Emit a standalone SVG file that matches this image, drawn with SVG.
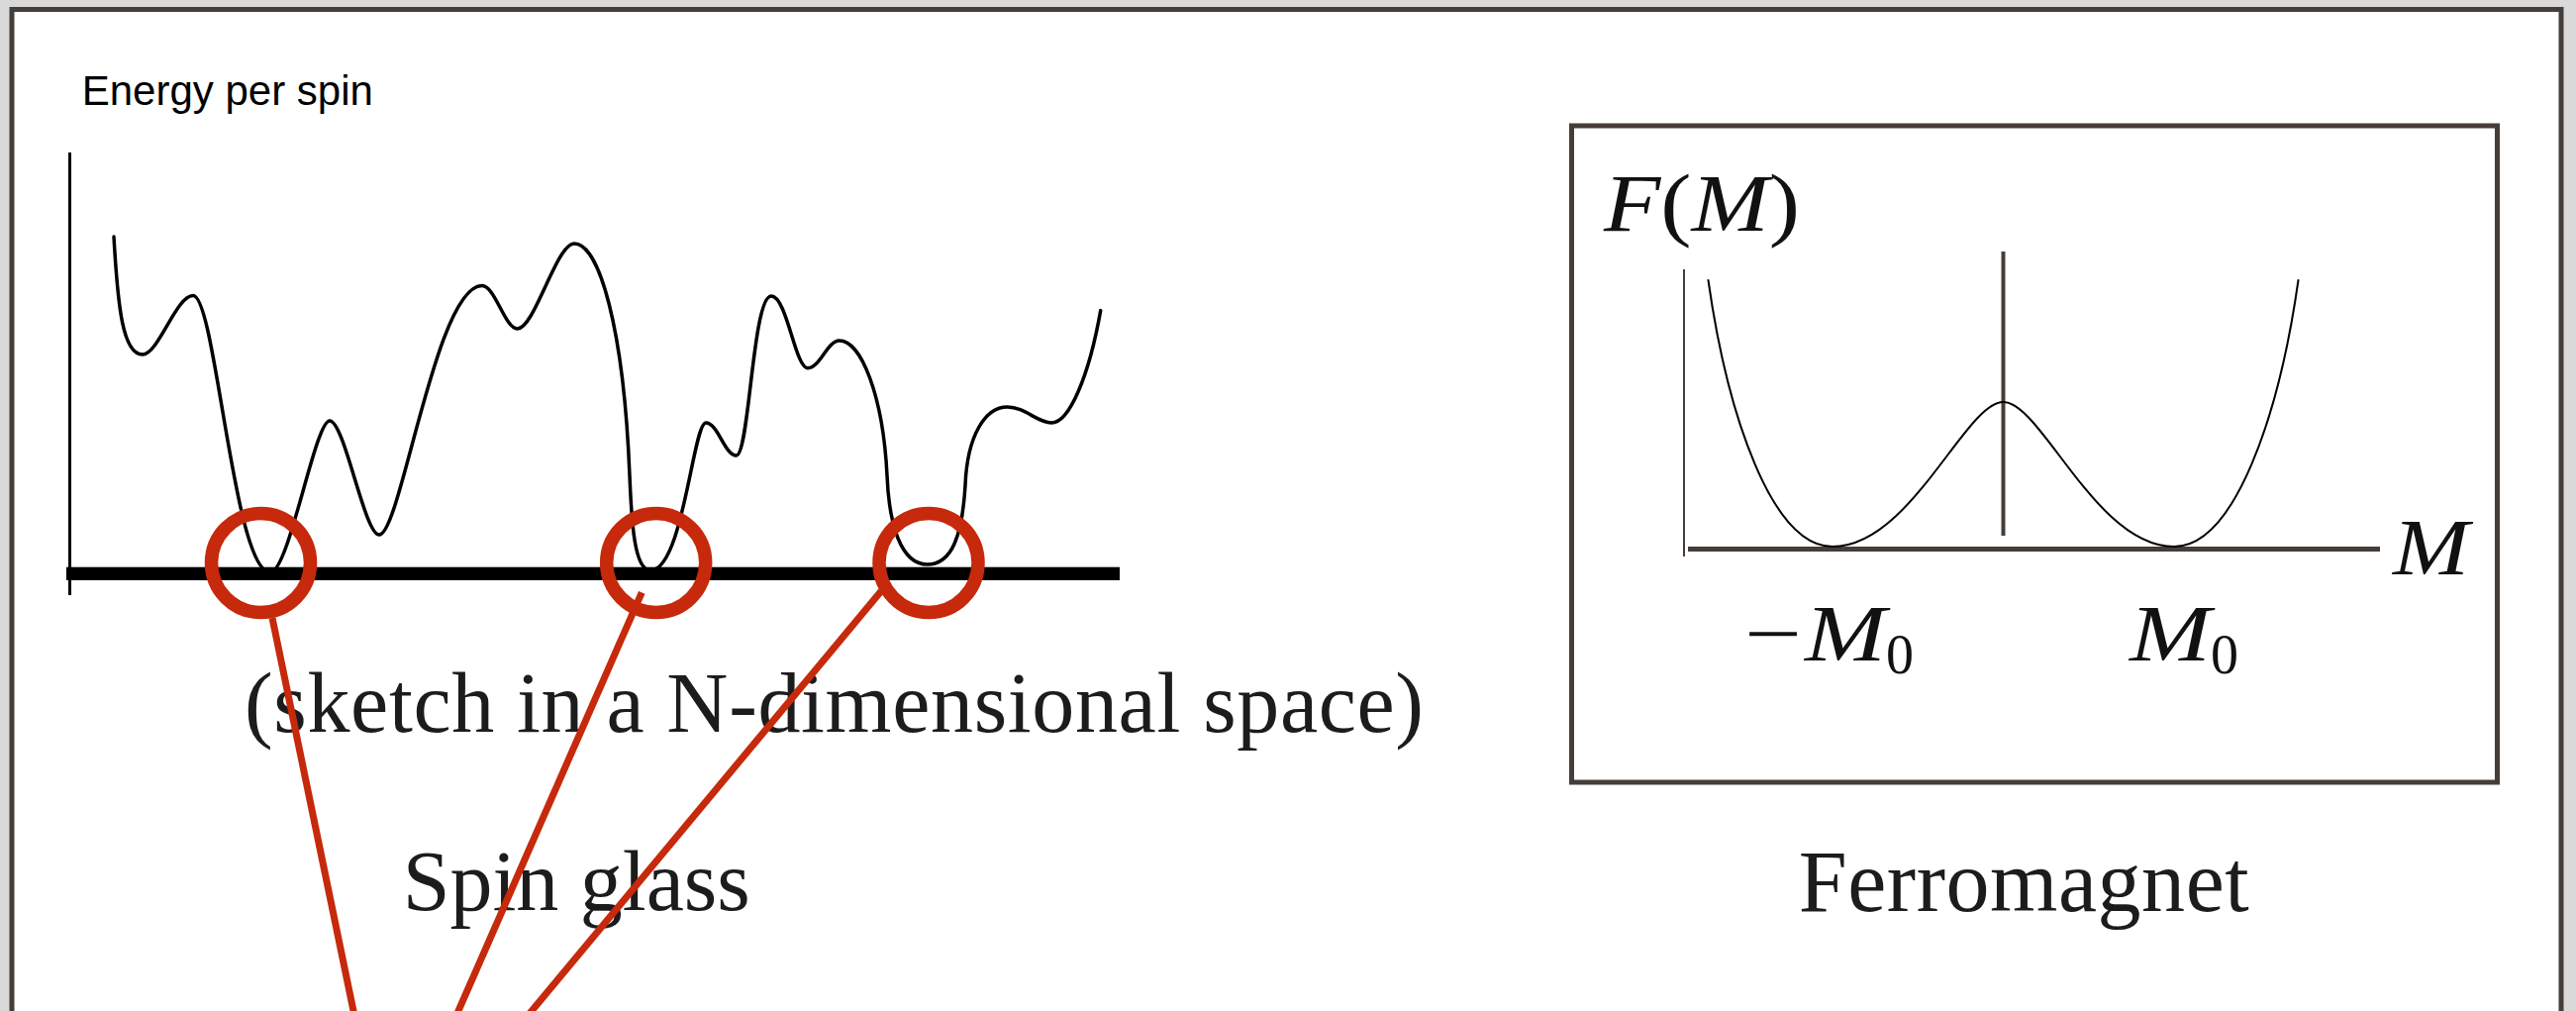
<svg xmlns="http://www.w3.org/2000/svg" width="2602" height="1021" viewBox="0 0 2602 1021">
  <style>
    .serif { font-family: "Liberation Serif", "DejaVu Serif", serif; fill: #1c1c1c; }
    .math { font-family: "Liberation Serif", "DejaVu Serif", serif; fill: #111; }
    .it { font-style: italic; }
    .sans { font-family: "Liberation Sans", Arial, sans-serif; fill: #000; }
    .red { stroke: #c6290b; fill: none; }
    .curve { fill: none; stroke: #000; stroke-linecap: round; stroke-linejoin: round; }
    .frame { fill: #fff; stroke: #453d38; stroke-width: 5; }
  </style>
  <rect x="0" y="0" width="2602" height="1021" fill="#d9d9d9"/>
  <rect class="frame" x="12" y="9.5" width="2575" height="1040"/>

  <g id="spin-glass-plot">
    <text class="sans" x="82.7" y="106" font-size="42">Energy per spin</text>
    <line x1="70.5" y1="154" x2="70.5" y2="601" stroke="#000" stroke-width="3"/>
    <path class="curve" stroke-width="3.5" d="M115,239 C119,310 124,358 144,358 C160,358 178,298.5 195,298.5 C218,298.5 236,578 273,578 C292,578 318,425 333,425 C348,425 368,540 383,540 C405,540 440,288.6 487,288.6 C500,288.6 510,332 522.6,332 C540,332 562,246 580,246 C605,246 630,330 636,480 C638,530 641,576 657,576 C690,576 700,427 713,427 C725,427 732,460 743.7,460 C757,460 760,299 779,299 C795,299 803,371.7 816,371.7 C828,371.7 836,344 847.7,344 C870,344 892,400 896,480 C898,530 910,570 936.7,570 C962,570 972,540 975,490 C977,440 995,411 1017.6,411 C1035,411 1048,427 1062,427 C1080,427 1100,380 1111.7,313.6"/>
    <rect x="67" y="572.7" width="1064" height="13.3" fill="#000"/>
    <text class="serif" x="247" y="739" font-size="86" textLength="1191">(sketch in a N-dimensional space)</text>
    <text class="serif" x="406.7" y="919" font-size="86" textLength="351">Spin glass</text>
  </g>

  <g id="connectors">
    <line class="red" x1="275" y1="624" x2="358.9" y2="1030" stroke-width="7"/>
    <line class="red" x1="648.3" y1="598.3" x2="459" y2="1030" stroke-width="7"/>
    <line class="red" x1="890" y1="597" x2="529.5" y2="1030" stroke-width="7"/>
  </g>

  <g id="minima">
    <circle id="min1" class="red" cx="263.5" cy="568.5" r="50" stroke-width="13.5"/>
    <circle id="min2" class="red" cx="662.7" cy="568.5" r="50" stroke-width="13.5"/>
    <circle id="min3" class="red" cx="938" cy="568.5" r="50" stroke-width="13.5"/>
  </g>

  <g id="ferromagnet-plot">
    <rect x="1587.5" y="127" width="935" height="663" fill="none" stroke="#453d38" stroke-width="5"/>
    <text class="math" x="1620" y="233" font-size="82" textLength="198" lengthAdjust="spacingAndGlyphs"><tspan class="it">F</tspan>(<tspan class="it">M</tspan>)</text>
    <line x1="1701" y1="272" x2="1701" y2="562" stroke="#453d38" stroke-width="2"/>
    <line x1="1705" y1="554.5" x2="2404" y2="554.5" stroke="#453d38" stroke-width="5"/>
    <line x1="2023.5" y1="254" x2="2023.5" y2="541" stroke="#453d38" stroke-width="4"/>
    <path class="curve" stroke-width="2" d="M1725.5,283 C1745,420 1790,552 1851,552 C1930,552 1985,406 2023.5,406 C2062,406 2117,552 2196,552 C2257,552 2302,420 2321.5,283"/>
    <text class="math it" x="2417" y="580" font-size="80" textLength="77" lengthAdjust="spacingAndGlyphs">M</text>
    <text class="math" x="1762" y="667" font-size="80" textLength="58" lengthAdjust="spacingAndGlyphs">−</text>
    <text class="math it" x="1823" y="667" font-size="80" textLength="82" lengthAdjust="spacingAndGlyphs">M</text>
    <text class="math" x="1905" y="680" font-size="56">0</text>
    <text class="math it" x="2151" y="667" font-size="80" textLength="82" lengthAdjust="spacingAndGlyphs">M</text>
    <text class="math" x="2233" y="680" font-size="56">0</text>
    <text class="serif" x="1816.7" y="920" font-size="88" textLength="455">Ferromagnet</text>
  </g>
</svg>
